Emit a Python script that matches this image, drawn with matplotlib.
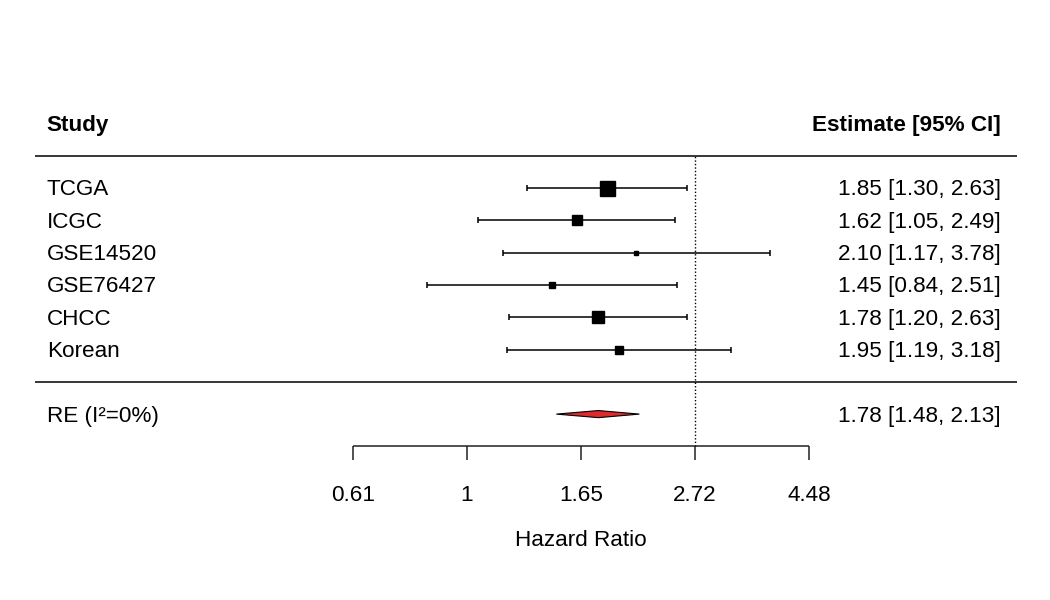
import numpy as np
import matplotlib
matplotlib.use("Agg")
import matplotlib.pyplot as plt

plt.rcParams['font.family'] = ['Liberation Sans', 'DejaVu Sans']

# data
studies = ["TCGA", "ICGC", "GSE14520", "GSE76427", "CHCC", "Korean"]
hr = [1.85, 1.62, 2.10, 1.45, 1.78, 1.95]
lower = [1.30, 1.05, 1.17, 0.84, 1.20, 1.19]
upper = [2.63, 2.49, 3.78, 2.51, 2.63, 3.18]
re_label = "RE (I²=0%)"
re_hr, re_lower, re_upper = 1.78, 1.48, 2.13
tick_logs = [-0.5, 0, 0.5, 1, 1.5]
tick_labels = ["0.61", "1", "1.65", "2.72", "4.48"]
refline = 1.0

k = len(studies)
rows = np.arange(k, 0, -1)
yi = np.log(hr)
lo = np.log(lower)
hi = np.log(upper)

# square size like metafor: 1/se scaled to 0.5-1.5
se = (hi - lo) / (2 * 1.96)
wi = 1 / se
psize = (wi - wi.min()) / (wi.max() - wi.min()) + 0.5

fig = plt.figure(figsize=(10.5, 6), dpi=100)
ax = fig.add_axes([0, 0, 1, 1])
ax.set_xlim(-2.048, 2.557)
ax.set_ylim(-6.755, 11.82)
ax.axis("off")

fs = 16.2
xl = -1.843
xr = 2.342
dy = -0.06  # small text offset

# header
ax.text(xl, k + 2 + dy, "Study", fontsize=fs, fontweight="bold", ha="left", va="center")
ax.text(xr, k + 2 + dy, "Estimate [95% CI]", fontsize=fs, fontweight="bold", ha="right", va="center")
ax.hlines([k + 1, 0], -1.895, 2.412, color="black", lw=1.1)

# reference line
ax.vlines(refline, -2, k + 1, color="black", lw=1.0, linestyles=(0, (1, 1.5)))

# studies
for r, name, y, l, h, e, lw_, up_, ps in zip(rows, studies, yi, lo, hi, hr, lower, upper, psize):
    ax.errorbar(y, r, xerr=[[y - l], [h - y]], fmt="none", ecolor="black",
                elinewidth=1.1, capsize=2.0, capthick=1.1)
    ax.plot(y, r, marker="s", color="black", markersize=ps * 10 * 0.72, linestyle="none")
    ax.text(xl, r + dy, name, fontsize=fs, ha="left", va="center")
    ax.text(xr, r + dy, "{:.2f} [{:.2f}, {:.2f}]".format(e, lw_, up_), fontsize=fs, ha="right", va="center")

# summary diamond
ry = -1
dh = 0.11
ax.fill([np.log(re_lower), np.log(re_hr), np.log(re_upper), np.log(re_hr)],
        [ry, ry + dh, ry, ry - dh], facecolor="#dd2a2a", edgecolor="black", lw=0.8)
ax.text(xl, ry + dy, re_label, fontsize=fs, ha="left", va="center")
ax.text(xr, ry + dy, "{:.2f} [{:.2f}, {:.2f}]".format(re_hr, re_lower, re_upper),
        fontsize=fs, ha="right", va="center")

# x axis
ay = -2
ax.hlines(ay, tick_logs[0], tick_logs[-1], color="#222222", lw=1.1)
ax.vlines(tick_logs, ay - 0.43, ay, color="#222222", lw=1.1)
for t, lab in zip(tick_logs, tick_labels):
    ax.text(t, -3.52, lab, fontsize=fs, ha="center", va="center")
ax.text(np.mean([tick_logs[0], tick_logs[-1]]), -4.9, "Hazard Ratio", fontsize=fs, ha="center", va="center")

fig.savefig("out.png", dpi=100)
